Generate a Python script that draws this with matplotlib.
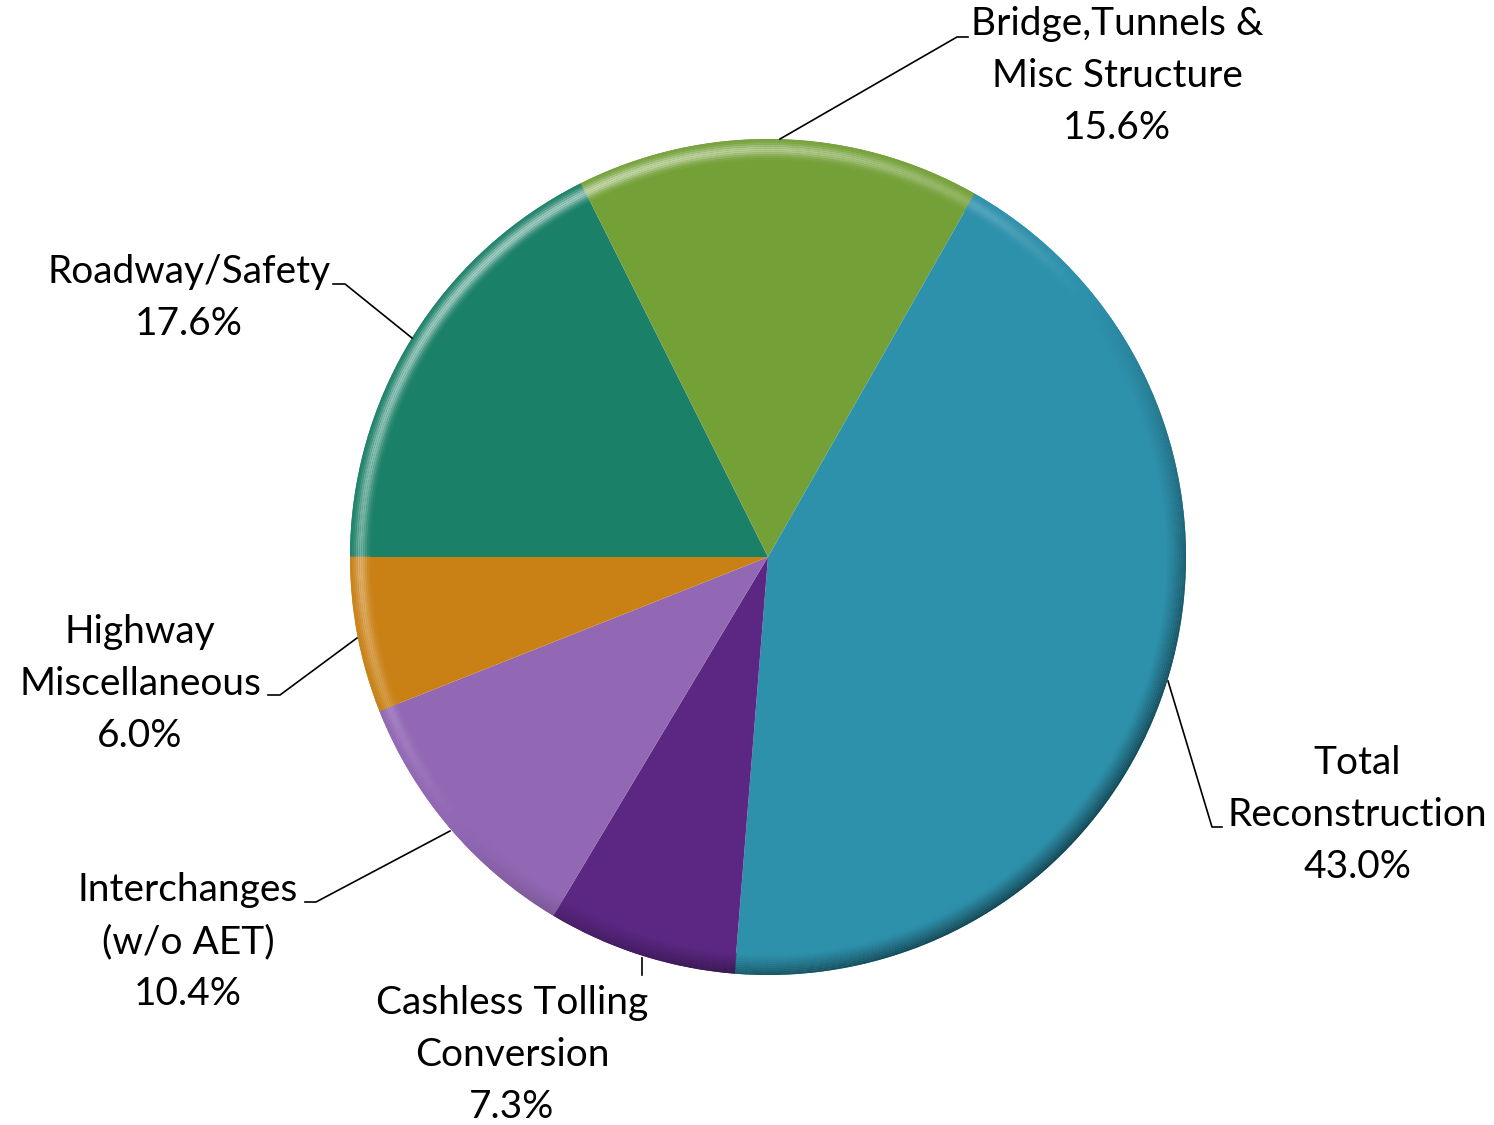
import matplotlib.pyplot as plt
import numpy as np
from matplotlib.patches import Wedge
from matplotlib.colors import to_rgb

# clockwise from 9 o'clock
labels = ["Roadway/Safety", "Bridge,Tunnels &\nMisc Structure", "Total\nReconstruction",
          "Cashless Tolling\nConversion", "Interchanges\n(w/o AET)", "Highway\nMiscellaneous"]
shares = [17.6, 15.6, 43.0, 7.3, 10.4, 6.0]
colors = ["#1B8068", "#74A038", "#2E91AC", "#5B2782", "#9268B4", "#C98116"]

W, H = 1494, 1125
CX, CY, R = 768, 557, 418


def px(x, y):
    return (x - CX) / R, (CY - y) / R


fig = plt.figure(figsize=(W / 100, H / 100), dpi=100)
ax = fig.add_axes([0, 0, 1, 1])

wedges, _ = ax.pie(shares, colors=colors, startangle=180, counterclock=False,
                   radius=1, center=(0, 0), frame=True)
ax.set_xlim(px(0, 0)[0], px(W, 0)[0])
ax.set_ylim(px(0, H)[1], px(0, 0)[1])
ax.set_aspect("equal")
ax.axis("off")

# bevel on the rim
bands = np.linspace(0.95, 1.0, 12)
for w, c in zip(wedges, colors):
    base = np.array(to_rgb(c))
    t1, t2 = w.theta1, w.theta2
    angs = np.linspace(t1, t2, max(int((t2 - t1) / 1.5), 2) + 1)
    for a0, a1 in zip(angs[:-1], angs[1:]):
        cm = np.cos(np.radians((a0 + a1) / 2 - 130))
        for r0, r1 in zip(bands[:-1], bands[1:]):
            rm = (r0 + r1) / 2
            u = (rm - 0.95) / 0.05
            if cm > 0:
                f = cm * np.exp(-((u - 0.5) / 0.28) ** 2) * 0.6
                col = base + (1 - base) * f
            else:
                f = -cm * u ** 1.2 * 0.55
                col = base * (1 - f)
            ax.add_patch(Wedge((0, 0), r1, a0 - 0.05, a1 + 0.05, width=r1 - r0,
                               facecolor=col, edgecolor="none", lw=0))

# labels and leader lines
font = dict(fontsize=28, family="Lato", ha="center", va="center",
            linespacing=1.55, color="black")
texts = [
    ("Roadway/Safety\n17.6%", 189, 298, [(333, 284), (345, 284), (412, 338)]),
    ("Bridge,Tunnels &\nMisc Structure\n15.6%", 1117, 76, [(968, 37), (957, 37), (780, 139)]),
    ("Total\nReconstruction\n43.0%", 1357, 815, [(1222, 827), (1212, 827), (1168, 681)]),
    ("Cashless Tolling\nConversion\n7.3%", 512, 1055, [(642, 975), (642, 958)]),
    ("Interchanges\n(w/o AET)\n10.4%", 188, 942, [(305, 902), (316, 902), (450, 831)]),
    ("Highway\nMiscellaneous\n6.0%", 140, 684, [(268, 695), (280, 695), (357, 638)]),
]
for s, x, y, line in texts:
    ax.text(*px(x, y), s, **font)
    pts = np.array([px(*p) for p in line])
    ax.plot(pts[:, 0], pts[:, 1], color="black", lw=1.2)

fig.savefig("out.png", dpi=100)
